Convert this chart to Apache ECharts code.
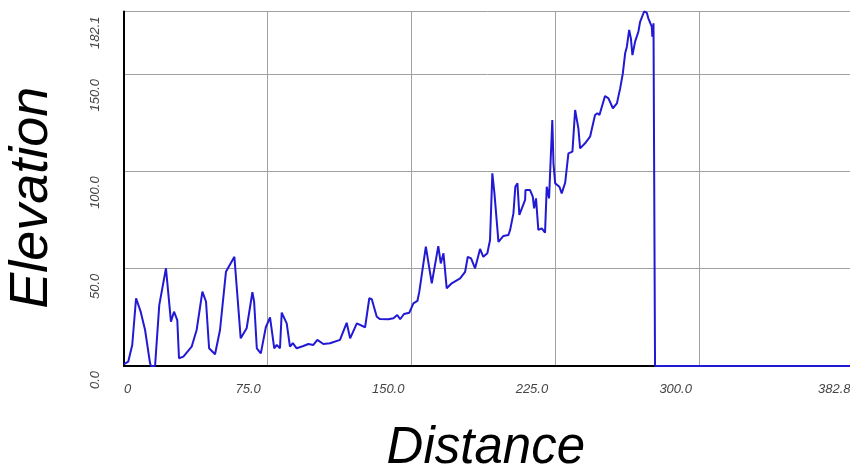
<!DOCTYPE html>
<html>
<head>
<meta charset="utf-8">
<script src="https://cdn.jsdelivr.net/npm/echarts@6/dist/echarts.min.js"></script>
<style>
  html, body { margin: 0; padding: 0; background: #ffffff; }
  #chart { width: 850px; height: 466px; }
</style>
</head>
<body>
<div id="chart"></div>
<script>
// Elevation profile: distance along the route vs. elevation
const distance = [
  0, 2.2, 4.3, 6.3, 8.7, 11.0, 13.6, 14.1, 16.2, 18.4,
  21.9, 24.5, 26.1, 27.8, 28.7, 31.0, 35.3, 37.9, 40.9, 42.8,
  44.4, 47.5, 50.1, 53.2, 57.6, 60.9, 64.0, 67.0, 67.9, 69.3,
  71.4, 74.0, 76.2, 78.4, 79.7, 81.4, 82.3, 84.9, 86.6, 88.1,
  90.1, 93.6, 96.2, 98.8, 100.9, 104.0, 107.5, 112.7, 116.2, 118.0,
  121.5, 125.8, 128.0, 129.3, 131.9, 133.6, 137.9, 140.6, 142.6, 144.1,
  146.1, 148.9, 151.0, 153.1, 154.1, 157.5, 160.6, 164.0, 165.3, 166.7,
  168.4, 171.0, 175.4, 178.0, 179.4, 181.1, 183.2, 185.8, 187.5, 189.6,
  191.0, 192.2, 193.3, 195.4, 198.0, 200.6, 201.5, 203.2, 204.2, 205.3,
  206.3, 208.1, 209.3, 209.5, 211.9, 213.3, 214.0, 215.0, 216.2, 218.0,
  219.7, 220.6, 221.8, 223.5, 224.1, 225.0, 227.2, 228.4, 230.2, 231.9,
  234.0, 235.4, 237.1, 238.0, 240.6, 243.2, 245.8, 247.0, 248.1, 251.0,
  252.8, 255.1, 257.2, 258.9, 260.3, 261.5, 262.4, 263.6, 264.5, 265.3,
  266.7, 268.4, 269.3, 271.4, 272.8, 273.6, 275.4, 275.7, 276.3, 277.1,
  277.1, 382.8
];
const elevation = [
  1.0, 2.2, 10.8, 34.8, 27.9, 18.5, 1.4, 0, 0, 31.3,
  50.2, 22.8, 27.9, 23.6, 4.0, 4.8, 9.9, 18.5, 38.2, 33.0,
  9.1, 6.0, 18.5, 48.4, 56.1, 14.2, 19.4, 37.9, 33.0, 9.1,
  6.5, 19.9, 25.0, 9.1, 10.8, 9.1, 27.4, 21.9, 9.9, 11.7,
  9.1, 10.3, 11.3, 10.8, 13.4, 11.3, 11.7, 13.4, 22.2, 14.2,
  21.9, 19.9, 34.8, 34.3, 25.3, 24.1, 24.0, 24.5, 26.2, 24.0,
  26.7, 27.4, 32.2, 33.4, 38.2, 61.3, 42.5, 61.6, 52.7, 57.9,
  39.9, 42.5, 45.0, 48.4, 56.1, 55.3, 50.2, 60.1, 56.1, 57.9,
  64.7, 99.0, 88.7, 63.8, 66.8, 67.3, 69.9, 78.4, 92.1, 93.8,
  77.6, 82.2, 85.3, 90.4, 90.4, 87.0, 81.0, 86.1, 69.9, 70.7,
  68.5, 92.1, 86.1, 126.3, 104.1, 93.8, 92.1, 88.7, 94.1, 109.2,
  110.1, 131.5, 122.1, 111.8, 114.4, 117.8, 128.9, 129.8, 128.9, 138.7,
  137.5, 132.4, 134.9, 142.6, 150.3, 160.6, 164.0, 172.6, 168.3, 159.7,
  166.6, 171.7, 176.8, 182.1, 181.5, 178.6, 174.3, 169.1, 176.0, 176.3,
  0, 0
];

// Axis ticks and labels
const xMax = 382.8;
const yMax = 182.1;
const xTicks = [0, 75, 150, 225, 300];
const xLabels = [0, 75, 150, 225, 300, 382.8];
const yTicks = [0, 50, 100, 150, 182.1];

const points = distance.map((d, i) => [d, elevation[i]]);

const chart = echarts.init(document.getElementById('chart'), null, { renderer: 'canvas' });

const labelFont = {
  fontFamily: '"Liberation Sans", Arial, sans-serif',
  fontStyle: 'italic',
  fontSize: 13,
  color: '#444444'
};
const titleFamily = '"Liberation Sans", Arial, sans-serif';

chart.setOption({
  animation: false,
  backgroundColor: '#ffffff',
  grid: {
    left: 124, top: 11.5, width: 733.6, height: 354.5,
    containLabel: false,
    outerBoundsMode: 'none'
  },
  xAxis: {
    type: 'value',
    min: 0,
    max: xMax,
    name: 'Distance',
    nameLocation: 'middle',
    nameGap: 57,
    nameTextStyle: {
      fontFamily: titleFamily, fontStyle: 'italic', fontSize: 51, color: '#000000',
      padding: [0, 10, 0, 0]
    },
    axisLine: { show: true, onZero: false, lineStyle: { color: '#000000', width: 2 } },
    axisTick: { show: false, customValues: xTicks },
    splitLine: { show: true, lineStyle: { color: '#a0a0a0', width: 1 } },
    axisLabel: Object.assign({
      customValues: xLabels,
      margin: 17,
      align: 'right',
      alignMinLabel: 'left',
      padding: [0, 7, 0, 0],
      formatter: v => (v === 0 ? '0' : v.toFixed(1))
    }, labelFont)
  },
  yAxis: {
    type: 'value',
    min: 0,
    max: yMax,
    name: 'Elevation',
    nameLocation: 'middle',
    nameGap: 65,
    nameRotate: 90,
    nameTextStyle: {
      fontFamily: titleFamily, fontStyle: 'italic', fontSize: 54, color: '#000000',
      padding: [0, 18, 0, 0]
    },
    axisLine: { show: true, onZero: false, lineStyle: { color: '#000000', width: 2 } },
    axisTick: { show: false, customValues: yTicks },
    splitLine: { show: true, lineStyle: { color: '#a0a0a0', width: 1 } },
    axisLabel: Object.assign({
      customValues: yTicks,
      rotate: 90,
      margin: 22,
      align: 'right',
      padding: [0, 5, 0, 0],
      formatter: v => v.toFixed(1)
    }, labelFont)
  },
  series: [{
    type: 'line',
    data: points,
    showSymbol: false,
    clip: false,
    lineStyle: { color: '#2219d4', width: 2 },
    z: 5
  }]
});
</script>
</body>
</html>
